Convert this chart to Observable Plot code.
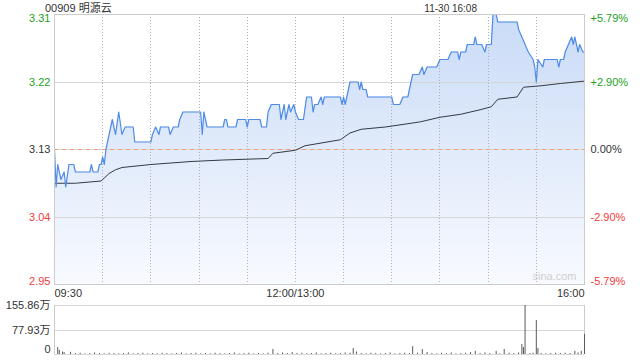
<!DOCTYPE html>
<html>
<head>
<meta charset="utf-8">
<script src="https://cdn.jsdelivr.net/npm/d3@7"></script>
<script src="https://cdn.jsdelivr.net/npm/@observablehq/plot@0.6"></script>
<style>
  body { margin: 0; background: #fff; }
  #wrap { position: relative; width: 640px; height: 360px; overflow: hidden;
          font-family: "Liberation Sans", Arial, "Noto Sans CJK SC", sans-serif; color: #333; }
  #title { position: absolute; left: 45px; top: 1px; font-size: 11px; line-height: 14px;
           font-family: "Liberation Sans", Arial, "Noto Sans CJK SC", sans-serif; }
  #stamp { position: absolute; right: 163px; top: 2px; font-size: 10px; line-height: 13px; }
  #main { position: absolute; left: 0; top: 0; }
  #vol { position: absolute; left: 0; top: 300px; }
</style>
</head>
<body>
<div id="wrap">
  <div id="main"></div>
  <div id="vol"></div>
  <div id="title">00909 明源云</div>
  <div id="stamp">11-30 16:08</div>
</div>
<script>
// ---- data (minutes since 09:30, trading time; 150 = 12:00/13:00) ----
const priceMin = [
  0,1,2,4,6,7,9,12,13,22,
  23,24,27,28,29,30,31,32,34,36,
  38,40,42,44,49,50,60,61,63,65,
  66,71,72,74,77,78,80,91,92,93,
  95,105,106,107,108,113,114,119,120,121,
  128,129,132,133,135,140,141,143,144,146,
  147,149,150,152,155,157,160,161,162,164,
  166,167,168,178,179,180,181,182,184,189,
  190,191,192,194,195,210,211,215,217,220,
  221,223,227,229,230,232,238,240,245,247,
  251,252,253,256,257,261,262,263,266,268,
  269,272,273,275,276,288,289,291,293,295,
  298,299,300,301,304,305,313,314,315,317,
  318,320,322,323,324,326,327,329,330
];
const priceVal = [
  3.13,3.08,3.11,3.09,3.10,3.08,3.11,3.11,3.10,3.10,
  3.11,3.10,3.10,3.11,3.11,3.12,3.11,3.13,3.15,3.17,
  3.15,3.18,3.15,3.16,3.16,3.14,3.14,3.15,3.16,3.15,
  3.16,3.16,3.15,3.16,3.16,3.17,3.18,3.18,3.15,3.18,
  3.16,3.16,3.17,3.17,3.16,3.16,3.17,3.17,3.16,3.17,
  3.17,3.16,3.16,3.18,3.19,3.19,3.17,3.19,3.17,3.19,
  3.18,3.19,3.18,3.17,3.17,3.20,3.20,3.18,3.19,3.19,
  3.20,3.19,3.20,3.20,3.19,3.20,3.19,3.20,3.22,3.22,
  3.21,3.22,3.21,3.21,3.20,3.20,3.19,3.19,3.20,3.20,
  3.21,3.23,3.23,3.24,3.23,3.24,3.24,3.25,3.25,3.26,
  3.26,3.25,3.26,3.26,3.27,3.27,3.28,3.27,3.27,3.26,
  3.27,3.27,3.31,3.31,3.30,3.30,3.29,3.28,3.27,3.26,
  3.25,3.24,3.22,3.25,3.24,3.25,3.25,3.24,3.25,3.25,
  3.26,3.27,3.28,3.27,3.28,3.26,3.27,3.26,3.26
];
const avgMin = [0,13,29,34,38,42,60,85,105,133,136,150,156,178,184,191,206,222,228,240,253,265,272,276,288,292,303,315,329,330];
const avgVal = [3.085,3.085,3.088,3.098,3.103,3.106,3.110,3.114,3.116,3.118,3.125,3.129,3.135,3.143,3.152,3.157,3.160,3.165,3.167,3.173,3.177,3.183,3.187,3.197,3.200,3.213,3.215,3.218,3.221,3.221];

// volume, in 万 shares
const volMin = [
  2,3,5,6,10,13,16,19,22,25,28,31,34,37,40,43,46,49,52,55,58,61,64,67,70,73,76,79,82,85,
  88,91,94,97,100,103,106,109,112,115,118,121,124,127,130,133,136,139,142,145,148,151,154,157,160,
  163,166,169,172,175,178,181,184,186,188,191,194,197,200,203,206,209,212,215,218,221,223,226,229,232,
  235,238,241,244,247,250,253,256,259,262,265,268,271,275,277,280,283,286,289,291,292,293,296,298,300,
  301,303,306,309,312,315,318,321,324,326,328,330
];
const volVal = [
  22,13,8,6,7,3,4,2,3,5,3,2,4,3,2,3,5,2,3,4,2,3,2,4,3,2,3,5,2,3,
  4,2,3,2,4,3,2,3,5,2,3,4,2,3,2,4,16,3,5,3,6,3,4,2,3,
  5,2,3,4,2,3,5,4,19,8,3,2,4,3,2,3,5,2,3,4,3,25,4,16,6,
  3,2,4,3,5,2,3,4,6,10,3,5,3,10,2,16,4,3,5,32,22,155.86,3,4,108,
  19,3,2,3,4,3,4,3,10,5,10,64
];

const yTickVal = [3.31, 3.22, 3.13, 3.04, 2.95];
const yTickLabel = ["3.31", "3.22", "3.13", "3.04", "2.95"];
const pctLabel = ["+5.79%", "+2.90%", "0.00%", "-2.90%", "-5.79%"];
const xTickMin = [0, 150, 330];
const xTickLabel = ["09:30", "12:00/13:00", "16:00"];
const gridMin = [30, 60, 90, 120, 150, 180, 210, 240, 270, 300];
const gridPrice = [3.22, 3.13, 3.04];
const volTickVal = [155.86, 77.93, 0];
const volTickLabel = ["155.86万", "77.93万", "0"];
const prevClose = 3.13;

// ---- build ----
const priceData = priceMin.map((m, i) => ({m, p: priceVal[i]}));
const avgData = avgMin.map((m, i) => ({m, a: avgVal[i]}));
const volData = volMin.map((m, i) => ({m, v: volVal[i]}));

const FONT = '"Liberation Sans", Arial, "Noto Sans CJK SC", sans-serif';
const tickColors = ["#22a022", "#22a022", "#333333", "#f03c3c", "#f03c3c"];
const anchors = ["top", "middle", "middle", "middle", "bottom"];
const VGRID = {stroke: "#b0b0b0", strokeDasharray: "1,2", shapeRendering: "crispEdges"};
const HGRID = {stroke: "#d6d6d6", shapeRendering: "crispEdges"};

function gradientDefs() {
  const ns = "http://www.w3.org/2000/svg";
  const defs = document.createElementNS(ns, "defs");
  const g = document.createElementNS(ns, "linearGradient");
  g.setAttribute("id", "areaGrad");
  g.setAttribute("x1", "0"); g.setAttribute("y1", "0");
  g.setAttribute("x2", "0"); g.setAttribute("y2", "1");
  [["0%", "#c9dbf7"], ["55%", "#e3ecfb"], ["100%", "#f8faff"]].forEach(([o, c]) => {
    const s = document.createElementNS(ns, "stop");
    s.setAttribute("offset", o); s.setAttribute("stop-color", c);
    g.appendChild(s);
  });
  defs.appendChild(g);
  return defs;
}

const yLabelMarks = [];
yTickVal.forEach((v, i) => {
  yLabelMarks.push(Plot.text([v], {y: d => d, text: () => yTickLabel[i], frameAnchor: "left", dx: -4,
    textAnchor: "end", lineAnchor: anchors[i], fill: tickColors[i], fontSize: 11}));
  yLabelMarks.push(Plot.text([v], {y: d => d, text: () => pctLabel[i], frameAnchor: "right", dx: 6,
    textAnchor: "start", lineAnchor: anchors[i], fill: tickColors[i], fontSize: 11}));
});
const xAnch = ["start", "middle", "end"];
const xLabelMarks = xTickMin.map((m, i) =>
  Plot.text([m], {x: d => d, text: () => xTickLabel[i], frameAnchor: "bottom", dy: 9,
    textAnchor: xAnch[i], lineAnchor: "middle", fill: "#333", fontSize: 11}));

const main = Plot.plot({
  width: 640, height: 300,
  marginLeft: 54, marginRight: 56, marginTop: 14, marginBottom: 16,
  style: {fontFamily: FONT, fontSize: "11px", background: "transparent"},
  x: {domain: [0, 330], axis: null},
  y: {domain: [2.95, 3.31], axis: null},
  marks: [
    gradientDefs,
    Plot.areaY(priceData, {x: "m", y1: 2.95, y2: "p", fill: "url(#areaGrad)"}),
    Plot.ruleX(gridMin, {x: d => d, ...VGRID}),
    Plot.ruleY(gridPrice, {y: d => d, ...HGRID}),
    Plot.ruleY([prevClose], {y: d => d, stroke: "#f0a07a", strokeDasharray: "4,4"}),
    Plot.lineY(avgData, {x: "m", y: "a", stroke: "#333a44", strokeWidth: 1}),
    Plot.lineY(priceData, {x: "m", y: "p", stroke: "#4f8ce8", strokeWidth: 1.2}),
    Plot.frame({stroke: "#cccccc"}),
    ...yLabelMarks,
    ...xLabelMarks,
    Plot.text(["sina.com"], {text: d => d, frameAnchor: "bottom-right", dx: -8, dy: -5,
      fill: "#cfcfcf", fontSize: 11})
  ]
});
document.getElementById("main").appendChild(main);

const volLabelAnch = ["middle", "middle", "bottom"];
const volLabelDy = [0, 0, -2];
const vol = Plot.plot({
  width: 640, height: 60,
  marginLeft: 54, marginRight: 56, marginTop: 5, marginBottom: 6,
  style: {fontFamily: FONT, fontSize: "11px", background: "transparent"},
  x: {domain: [0, 330], axis: null},
  y: {domain: [0, 155.86], axis: null},
  marks: [
    Plot.ruleY([155.86, 77.93], {y: d => d, ...HGRID}),
    Plot.ruleY([0], {y: d => d, stroke: "#d8d8d8"}),
    Plot.ruleX([0, 330], {x: d => d, stroke: "#cccccc"}),
    Plot.ruleX(volData, {x: "m", y1: 0, y2: "v", stroke: "#5a5a5a", strokeWidth: 1}),
    ...volTickVal.map((v, i) => Plot.text([v], {y: d => d, text: () => volTickLabel[i], frameAnchor: "left",
      dx: -4, dy: volLabelDy[i], textAnchor: "end", lineAnchor: volLabelAnch[i], fill: "#333", fontSize: 11}))
  ]
});
document.getElementById("vol").appendChild(vol);
</script>
</body>
</html>
